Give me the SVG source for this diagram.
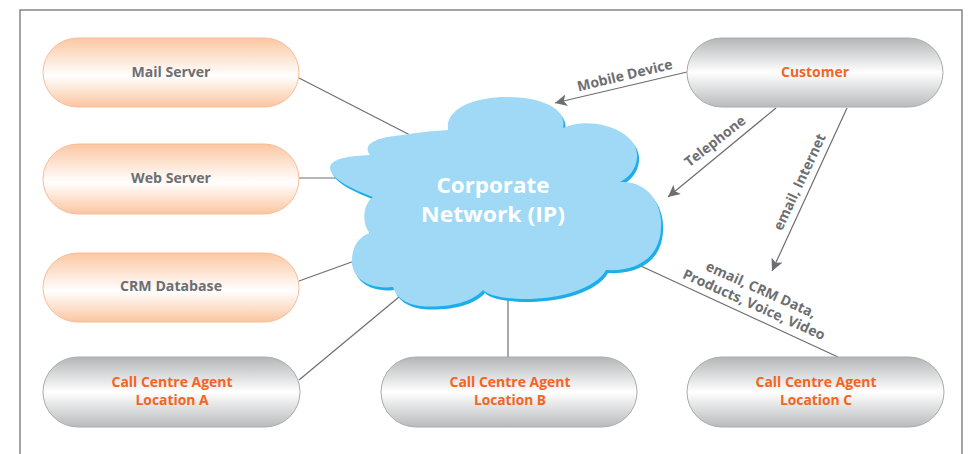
<svg xmlns="http://www.w3.org/2000/svg" width="968" height="454" viewBox="0 0 968 454">
<defs>
<linearGradient id="gOr" x1="0" y1="0" x2="0" y2="1">
<stop offset="0" stop-color="#fbc7a2"/>
<stop offset="0.55" stop-color="#ffffff"/>
<stop offset="1" stop-color="#fbc5a0"/>
</linearGradient>
<linearGradient id="gGr" x1="0" y1="0" x2="0" y2="1">
<stop offset="0" stop-color="#b4b5b7"/>
<stop offset="0.5" stop-color="#ffffff"/>
<stop offset="1" stop-color="#b9babc"/>
</linearGradient>
<marker id="arr" markerUnits="userSpaceOnUse" markerWidth="14" markerHeight="12" refX="12" refY="6" orient="auto">
<path d="M0,0 L12,6 L0,12 L3,6 Z" fill="#6d6e71"/>
</marker>
</defs>
<style>
.frame{fill:#ffffff;stroke:#858585;stroke-width:1.5}
.or{fill:url(#gOr);stroke:#f8bd98;stroke-width:1}
.gr{fill:url(#gGr);stroke:#a9abae;stroke-width:1}
.lbl{font-family:"Open Sans","Noto Sans",sans-serif;font-weight:bold;font-size:14px;fill:#6d6e71;text-anchor:middle}
.olbl{font-family:"Open Sans","Noto Sans",sans-serif;font-weight:bold;font-size:14px;fill:#f26522;text-anchor:middle}
.cl{font-family:"Open Sans","Noto Sans",sans-serif;font-weight:bold;font-size:22px;fill:#ffffff;text-anchor:middle}
.ln{stroke:#6d6e71;stroke-width:1.2;fill:none}
.al{stroke:#6d6e71;stroke-width:1.2;fill:none;marker-end:url(#arr)}
</style>
<rect class="frame" x="20" y="10" width="942" height="470"/>
<g id="connectors">
<line class="ln" x1="299" y1="78" x2="410" y2="135"/>
<line class="ln" x1="299" y1="178" x2="345" y2="178"/>
<line class="ln" x1="299" y1="281" x2="360" y2="259"/>
<line class="ln" x1="299" y1="380" x2="405" y2="292"/>
<line class="ln" x1="508" y1="290" x2="508" y2="357"/>
<line class="ln" x1="630" y1="261" x2="838" y2="357"/>
<line class="al" x1="687" y1="72" x2="555" y2="103"/>
<line class="al" x1="776" y1="108" x2="668" y2="197"/>
<line class="al" x1="847" y1="108" x2="772" y2="271"/>
<text class="lbl" transform="translate(626,80) rotate(-13.5)">Mobile Device</text>
<text class="lbl" transform="translate(718,145) rotate(-38)">Telephone</text>
<text class="lbl" transform="translate(804,184) rotate(-65)">email, Internet</text>
<text class="lbl" transform="translate(759,294) rotate(24)">email, CRM Data,</text>
<text class="lbl" transform="translate(752,309) rotate(24)">Products, Voice, Video</text>
</g>
<g id="cloud">
<path transform="translate(2,3)" fill="#1caeea" d="M448,130 C445,108 475,97 507,97 C540,97 568,108 563,128 C590,115 640,130 637,158 C636,170 628,178 620,182 C648,180 663,205 661,228 C660,255 640,272 606,270 C595,290 555,300 520,299 C500,298 488,295 483,290 C470,305 440,308 420,306 C405,304 395,296 393,287 C365,290 350,275 352,258 C353,245 360,236 370,233 C362,225 362,205 373,197 C355,190 330,180 330,167 C332,158 350,156 370,155 C362,145 375,138 395,136 C415,133 430,131 448,130 Z"/>
<path fill="#9fd9f5" d="M448,130 C445,108 475,97 507,97 C540,97 568,108 563,128 C590,115 640,130 637,158 C636,170 628,178 620,182 C648,180 663,205 661,228 C660,255 640,272 606,270 C595,290 555,300 520,299 C500,298 488,295 483,290 C470,305 440,308 420,306 C405,304 395,296 393,287 C365,290 350,275 352,258 C353,245 360,236 370,233 C362,225 362,205 373,197 C355,190 330,180 330,167 C332,158 350,156 370,155 C362,145 375,138 395,136 C415,133 430,131 448,130 Z"/>
<text class="cl" x="493" y="193" textLength="113" lengthAdjust="spacingAndGlyphs">Corporate</text>
<text class="cl" x="493" y="222" textLength="144" lengthAdjust="spacingAndGlyphs">Network (IP)</text>
</g>
<g id="mail-server">
<rect class="or" x="43" y="38" width="256" height="69" rx="34.5"/>
<text class="lbl" x="171" y="77" textLength="79" lengthAdjust="spacingAndGlyphs">Mail Server</text>
</g>
<g id="web-server">
<rect class="or" x="43" y="144" width="256" height="70" rx="35"/>
<text class="lbl" x="171" y="183" textLength="80" lengthAdjust="spacingAndGlyphs">Web Server</text>
</g>
<g id="crm-database">
<rect class="or" x="43" y="253" width="256" height="69" rx="34.5"/>
<text class="lbl" x="171" y="291" textLength="102" lengthAdjust="spacingAndGlyphs">CRM Database</text>
</g>
<g id="customer">
<rect class="gr" x="687" y="38" width="256" height="69" rx="34.5"/>
<text class="olbl" x="815" y="77" textLength="68" lengthAdjust="spacingAndGlyphs">Customer</text>
</g>
<g id="agent-a">
<rect class="gr" x="43" y="357" width="257" height="70" rx="35"/>
<text class="olbl" x="172" y="387" textLength="121" lengthAdjust="spacingAndGlyphs">Call Centre Agent</text>
<text class="olbl" x="172" y="405" textLength="73" lengthAdjust="spacingAndGlyphs">Location A</text>
</g>
<g id="agent-b">
<rect class="gr" x="381" y="357" width="256" height="70" rx="35"/>
<text class="olbl" x="510" y="387" textLength="121" lengthAdjust="spacingAndGlyphs">Call Centre Agent</text>
<text class="olbl" x="510" y="405" textLength="72" lengthAdjust="spacingAndGlyphs">Location B</text>
</g>
<g id="agent-c">
<rect class="gr" x="687" y="357" width="257" height="70" rx="35"/>
<text class="olbl" x="816" y="387" textLength="121" lengthAdjust="spacingAndGlyphs">Call Centre Agent</text>
<text class="olbl" x="816" y="405" textLength="72" lengthAdjust="spacingAndGlyphs">Location C</text>
</g>
</svg>
